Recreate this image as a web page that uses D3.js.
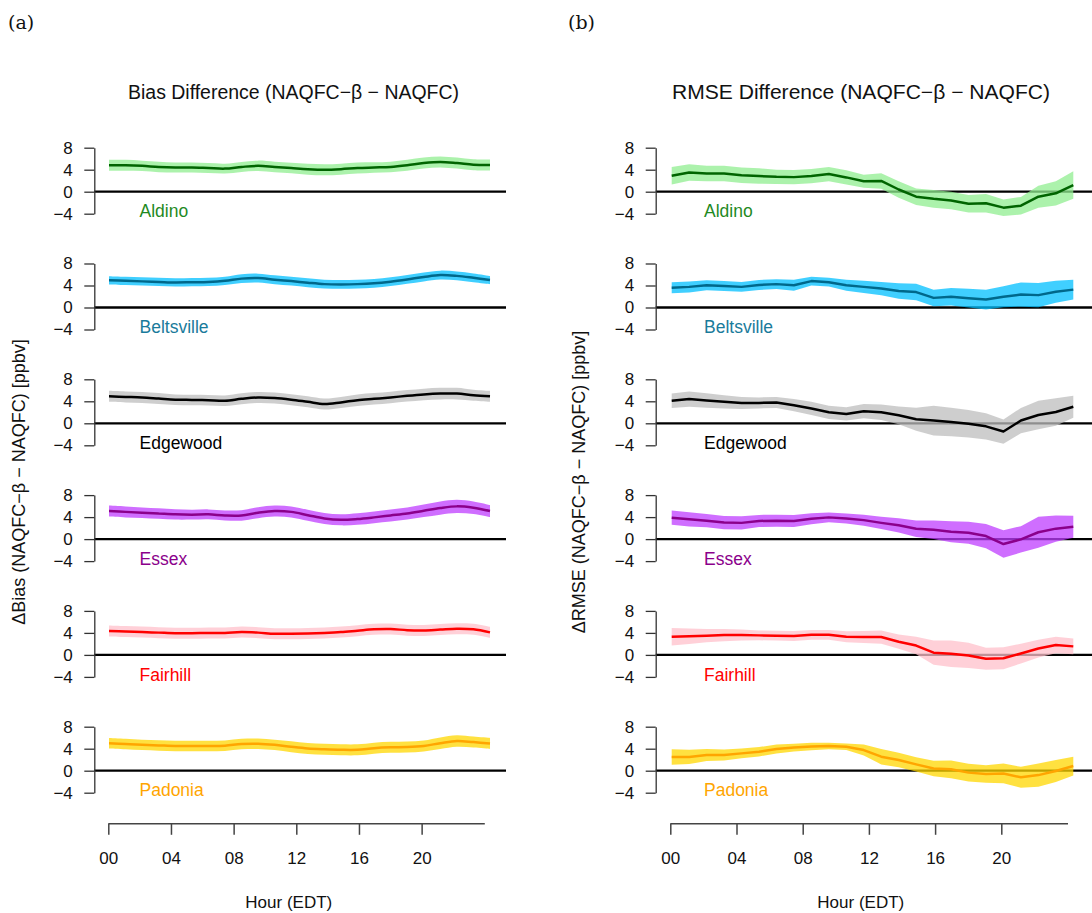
<!DOCTYPE html>
<html><head><meta charset="utf-8">
<script src="https://cdn.jsdelivr.net/npm/d3@7"></script>
<style>body{margin:0;background:#fff}svg{display:block}</style>
</head><body>
<svg id="c" width="1092" height="913"></svg>
<script>
// ---------- data ----------
const hours = [0,1,2,3,4,5,6,7,8,9,10,11,12,13,14,15,16,17,18,19,20,21,22,23];
const stations = ["Aldino","Beltsville","Edgewood","Essex","Fairhill","Padonia"];
const yTicks = [-4,0,4,8];
const hourTicks = [0,4,8,12,16,20];
const hourTickLabels = ["00","04","08","12","16","20"];

// (a) Bias difference: mean and half-width of shaded band
const biasAldino     = [4.8,4.8,4.7,4.5,4.4,4.4,4.3,4.2,4.5,4.7,4.5,4.3,4.1,4.0,4.1,4.3,4.4,4.5,4.8,5.2,5.4,5.2,4.9,4.85];
const biasAldinoHW   = [1.0,1.0,0.95,0.95,0.9,0.9,0.9,0.9,0.9,0.95,0.95,0.95,1.0,1.0,1.0,1.0,0.95,0.95,1.0,1.0,1.0,1.0,1.0,1.0];
const biasBelts      = [4.95,4.85,4.75,4.65,4.55,4.6,4.65,4.85,5.25,5.35,5.05,4.8,4.5,4.25,4.2,4.25,4.4,4.7,5.1,5.55,5.9,5.75,5.4,5.0];
const biasBeltsHW    = [0.75,0.75,0.75,0.75,0.75,0.75,0.75,0.75,0.8,0.8,0.8,0.8,0.8,0.8,0.8,0.8,0.8,0.8,0.8,0.8,0.8,0.8,0.8,0.75];
const biasEdge       = [4.9,4.8,4.7,4.5,4.3,4.25,4.2,4.1,4.45,4.7,4.6,4.3,3.9,3.5,3.8,4.2,4.45,4.7,5.0,5.25,5.4,5.4,5.1,4.9];
const biasEdgeHW     = [1.0,1.0,1.0,1.0,0.95,0.95,0.95,0.95,1.0,1.0,1.0,1.0,1.0,1.0,1.0,1.05,1.05,1.05,1.05,1.05,1.05,1.05,1.0,1.0];
const biasEssex      = [5.1,4.95,4.8,4.65,4.5,4.45,4.5,4.3,4.3,4.8,5.1,4.95,4.35,3.75,3.5,3.65,3.95,4.3,4.65,5.15,5.65,5.95,5.7,5.1];
const biasEssexHW    = [1.0,1.0,0.95,0.95,0.95,0.9,0.9,0.9,0.95,1.0,1.0,1.0,1.0,1.0,1.0,1.05,1.05,1.1,1.1,1.15,1.2,1.2,1.15,1.1];
const biasFair       = [4.35,4.25,4.15,4.05,3.95,3.95,4.0,4.0,4.15,4.05,3.85,3.85,3.9,4.0,4.15,4.4,4.65,4.7,4.5,4.45,4.6,4.75,4.65,4.1];
const biasFairHW     = [1.0,1.0,1.0,1.0,1.0,1.0,1.0,1.0,1.0,1.0,1.0,1.0,1.0,1.0,1.0,1.0,1.0,1.0,1.0,1.0,1.0,1.0,1.0,1.0];
const biasPad        = [5.0,4.85,4.7,4.6,4.5,4.5,4.5,4.55,4.85,4.9,4.7,4.35,4.05,3.9,3.8,3.8,4.1,4.25,4.3,4.5,5.0,5.4,5.2,4.95];
const biasPadHW      = [0.95,0.95,0.95,0.95,0.95,0.95,0.95,0.95,0.95,0.95,0.95,1.0,1.0,1.0,1.0,1.0,1.0,1.0,1.0,1.0,1.05,1.05,1.0,1.0];

// (b) RMSE difference
const rmseAldino     = [2.9,3.5,3.3,3.3,3.0,2.85,2.7,2.65,2.85,3.2,2.6,1.9,1.95,0.4,-0.9,-1.3,-1.6,-2.2,-2.1,-2.9,-2.55,-0.9,-0.3,1.2];
const rmseAldinoHW   = [1.6,1.5,1.4,1.4,1.4,1.4,1.3,1.3,1.3,1.3,1.3,1.2,1.4,1.5,1.5,1.6,1.6,1.6,1.7,1.5,1.6,2.0,2.2,2.5];
const rmseBelts      = [3.6,3.75,4.05,3.9,3.75,4.1,4.25,4.05,4.8,4.6,4.05,3.75,3.45,3.0,2.8,1.75,1.95,1.7,1.45,1.95,2.35,2.25,2.85,3.25];
const rmseBeltsHW    = [1.0,1.0,0.9,0.9,0.9,0.9,0.9,1.0,0.8,0.8,1.0,1.1,1.2,1.4,1.5,1.5,1.6,1.7,1.8,1.9,2.2,2.2,2.0,1.8];
const rmseEdge       = [4.1,4.4,4.15,3.9,3.7,3.7,3.8,3.3,2.7,2.0,1.7,2.2,2.0,1.45,0.75,0.5,0.25,-0.1,-0.55,-1.5,0.5,1.5,2.05,3.0];
const rmseEdgeHW     = [1.3,1.4,1.3,1.2,1.1,1.0,1.0,1.1,1.2,1.2,1.2,1.3,1.4,1.6,2.1,2.7,2.6,2.5,2.4,2.2,2.3,2.6,2.5,2.0];
const rmseEssex      = [3.9,3.6,3.35,3.0,2.95,3.3,3.35,3.3,3.7,3.95,3.75,3.45,2.95,2.5,1.9,1.7,1.35,1.15,0.55,-0.9,-0.05,1.25,1.9,2.25];
const rmseEssexHW    = [1.3,1.3,1.2,1.2,1.2,1.1,1.1,1.1,1.0,0.9,0.9,1.0,1.1,1.3,1.5,1.7,1.9,2.0,2.2,2.5,2.4,2.8,2.4,2.0];
const rmseFair       = [3.3,3.4,3.5,3.6,3.6,3.55,3.5,3.45,3.65,3.65,3.3,3.25,3.25,2.4,1.7,0.4,0.2,-0.1,-0.7,-0.6,0.25,1.15,1.8,1.55];
const rmseFairHW     = [1.6,1.4,1.2,1.1,1.0,0.9,0.9,0.9,0.9,0.9,1.0,1.1,1.2,1.3,1.6,2.2,2.4,2.3,2.0,2.0,1.8,1.6,1.5,1.45];
const rmsePad        = [2.5,2.5,2.85,2.85,3.15,3.45,3.95,4.2,4.4,4.5,4.35,3.75,2.55,1.95,1.15,0.4,0.25,-0.35,-0.6,-0.5,-1.2,-0.8,-0.05,0.85];
const rmsePadHW      = [1.4,1.3,1.1,1.0,0.9,0.85,0.8,0.7,0.7,0.6,0.6,1.0,1.4,1.3,1.3,1.4,1.6,1.6,1.6,1.8,1.9,2.1,2.0,1.7];

const biasMeans = [biasAldino,biasBelts,biasEdge,biasEssex,biasFair,biasPad];
const biasHWs   = [biasAldinoHW,biasBeltsHW,biasEdgeHW,biasEssexHW,biasFairHW,biasPadHW];
const rmseMeans = [rmseAldino,rmseBelts,rmseEdge,rmseEssex,rmseFair,rmsePad];
const rmseHWs   = [rmseAldinoHW,rmseBeltsHW,rmseEdgeHW,rmseEssexHW,rmseFairHW,rmsePadHW];

const bandColors  = ["#90EE90","#00BFFF","#BEBEBE","#BF3EFF","#FFC0CB","#FFD700"];
const lineColors  = ["#006400","#00688B","#000000","#8B008B","#FF0000","#FFA500"];
const labelColors = ["#1f8a1f","#1a7b9b","#000000","#8B008B","#FF0000","#FFA500"];

// ---------- drawing ----------
const FONT = "'Liberation Sans', Arial, Helvetica, sans-serif";
const svg = d3.select("#c");
const rowZero = d3.scaleLinear().domain([0,5]).range([191.7,770.7]);

const panels = [
  {axisX:94.3, dataRange:[109,490], hourRange:[108.3,484.3], zeroEnd:506, curve:d3.curveCatmullRom,
   title:"Bias Difference (NAQFC\u2212\u03B2 \u2212 NAQFC)", titleX:293.5, titleLen:331,
   ytitle:"\u0394Bias (NAQFC\u2212\u03B2 \u2212 NAQFC) [ppbv]", ytitleX:25,
   tag:"(a)", tagX:8, means:biasMeans, hws:biasHWs, labelX:139.5, hourLabelX:288.8},
  {axisX:655.7, dataRange:[671.7,1073.3], hourRange:[670.3,1067.5], zeroEnd:1092, curve:d3.curveLinear,
   title:"RMSE Difference (NAQFC\u2212\u03B2 \u2212 NAQFC)", titleX:861, titleLen:378,
   ytitle:"\u0394RMSE (NAQFC\u2212\u03B2 \u2212 NAQFC) [ppbv]", ytitleX:585,
   tag:"(b)", tagX:568, means:rmseMeans, hws:rmseHWs, labelX:704, hourLabelX:860.8}
];

panels.forEach(p => {
  const g = svg.append("g");
  const x = d3.scaleLinear().domain([0,23]).range(p.dataRange);

  g.append("text").attr("x",p.tagX).attr("y",29)
    .attr("font-family","'DejaVu Serif','Liberation Serif',serif").attr("font-size",19)
    .attr("fill","#111").text(p.tag);

  g.append("text").attr("x",p.titleX).attr("y",99).attr("text-anchor","middle")
    .attr("font-family",FONT).attr("font-size",20).attr("fill","#111")
    .attr("textLength",p.titleLen).attr("lengthAdjust","spacingAndGlyphs")
    .text(p.title);

  g.append("text").attr("transform",`translate(${p.ytitleX},482) rotate(-90)`)
    .attr("text-anchor","middle").attr("font-family",FONT).attr("font-size",18)
    .attr("fill","#111").text(p.ytitle);

  stations.forEach((st,i) => {
    const z = rowZero(i);
    const y = d3.scaleLinear().domain([-4,8]).range([z+22, z-44]);
    const rows = hours.map((h,k) => ({h, m:p.means[i][k], hw:p.hws[i][k]}));

    g.append("line").attr("x1",p.axisX).attr("x2",p.zeroEnd)
      .attr("y1",y(0)).attr("y2",y(0)).attr("stroke","#000").attr("stroke-width",2.3);

    const area = d3.area().curve(p.curve).x(d=>x(d.h)).y0(d=>y(d.m-d.hw)).y1(d=>y(d.m+d.hw));
    g.append("path").datum(rows).attr("d",area)
      .attr("fill",bandColors[i]).attr("fill-opacity",0.75);

    const line = d3.line().curve(p.curve).x(d=>x(d.h)).y(d=>y(d.m));
    g.append("path").datum(rows).attr("d",line).attr("fill","none")
      .attr("stroke",lineColors[i]).attr("stroke-width",2.5).attr("stroke-linejoin","round");

    const ax = g.append("g").attr("transform",`translate(${p.axisX},0)`)
      .call(d3.axisLeft(y).tickValues(yTicks).tickSize(10).tickSizeOuter(0).tickPadding(11.5));
    ax.selectAll("path,line").attr("stroke","#333").attr("stroke-width",1.3);
    ax.selectAll("text").attr("font-family",FONT).attr("font-size",17).attr("fill","#111");

    g.append("text").attr("x",p.labelX).attr("y",z+25.6)
      .attr("font-family",FONT).attr("font-size",17.5).attr("fill",labelColors[i]).text(st);
  });

  const hx = d3.scaleLinear().domain([0,24]).range(p.hourRange);
  const hax = g.append("g").attr("transform","translate(0,823.3)")
    .call(d3.axisBottom(hx).tickValues(hourTicks).tickFormat((d,k)=>hourTickLabels[k])
      .tickSize(11.5).tickSizeOuter(0).tickPadding(17));
  hax.selectAll("path,line").attr("stroke","#444").attr("stroke-width",1.5);
  hax.selectAll("text").attr("font-family",FONT).attr("font-size",17).attr("fill","#111");

  g.append("text").attr("x",p.hourLabelX).attr("y",908).attr("text-anchor","middle")
    .attr("font-family",FONT).attr("font-size",17).attr("fill","#111").text("Hour (EDT)");
});
</script>
</body></html>
